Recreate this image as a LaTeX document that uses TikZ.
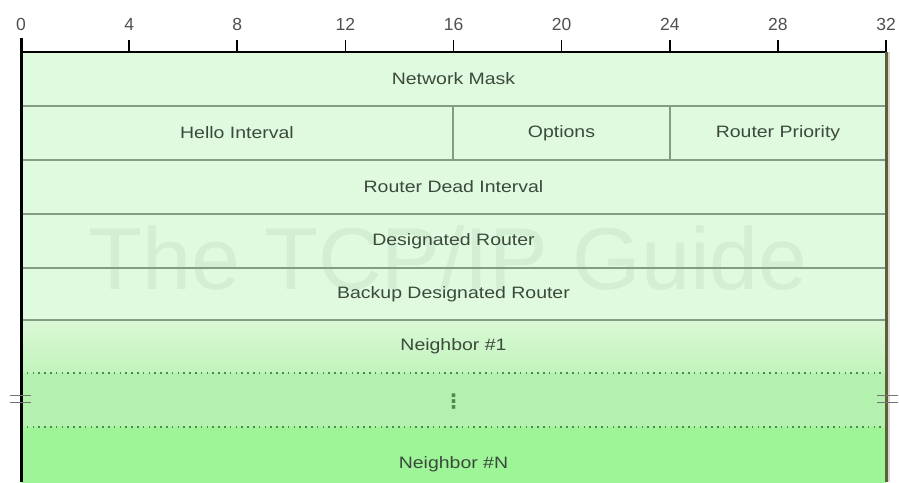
\documentclass[tikz,border=0pt]{standalone}
\usepackage{fontspec}
\setmainfont{Liberation Sans}
\newfontfamily\symfont{DejaVu Sans}
\definecolor{bgA}{HTML}{DFFADF}
\definecolor{bgB1}{HTML}{DAF8D6}
\definecolor{bgB2}{HTML}{C2F4BC}
\definecolor{bgC}{HTML}{B4F1AF}
\definecolor{bgD}{HTML}{9DF598}
\definecolor{sepc}{HTML}{849C84}
\definecolor{dotc}{HTML}{4E8A4E}
\definecolor{txtc}{HTML}{3C4A3C}
\definecolor{tickc}{HTML}{505050}
\definecolor{rightc}{HTML}{5E5E3A}
\definecolor{wmark}{HTML}{D3EFD3}
\newcommand{\wtxt}[1]{\scalebox{1.18}[1]{#1}}
\tikzset{
  field/.style={inner sep=0pt, outer sep=0pt, minimum height=54pt, text=txtc,
    font=\fontsize{16.5}{18}\selectfont},
  sepline/.style={draw=sepc, line width=1.6pt},
  dotline/.style={draw=dotc, line width=1.4pt, dash pattern=on 1.6pt off 4.2pt},
  ticklbl/.style={text=tickc, font=\fontsize{17.5}{19}\selectfont, inner sep=0pt},
  tickmark/.style={draw=black, line width=1.6pt},
  brk/.style={draw=tickc!80, line width=1.6pt}
}
\begin{document}
\begin{tikzpicture}[x=1pt,y=-1pt]
\useasboundingbox (0,0) rectangle (899,482);
\fill[white] (0,0) rectangle (899,482);
\begin{scope}
\clip (0,0) rectangle (899,482);
% row fills
\node[field, fill=bgA, minimum width=865pt, minimum height=54pt, anchor=north west] (r1) at (21,52) {};
\node[field, fill=bgA, minimum width=432pt, anchor=north west] (hello) at (21,106) {};
\node[field, fill=bgA, minimum width=217pt, anchor=north west] (opt) at (453,106) {};
\node[field, fill=bgA, minimum width=216pt, anchor=north west] (prio) at (670,106) {};
\node[field, fill=bgA, minimum width=865pt, anchor=north west] (r3) at (21,160) {};
\node[field, fill=bgA, minimum width=865pt, anchor=north west] (r4) at (21,214) {};
\node[field, fill=bgA, minimum width=865pt, minimum height=52pt, anchor=north west] (r5) at (21,268) {};
\node[field, top color=bgB1, bottom color=bgB2, minimum width=865pt, minimum height=53pt, anchor=north west] (r6) at (21,320) {};
\node[field, fill=bgC, minimum width=865pt, anchor=north west] (r7) at (21,373) {};
\node[field, fill=bgD, minimum width=865pt, minimum height=66pt, anchor=north west] (r8) at (21,427) {};
% watermark
\node[text=wmark, font=\fontsize{88}{96}\selectfont, inner sep=0pt] (wm) at (448,258) {The TCP/IP Guide};
% separators
\draw[sepline] (r1.south west) -- (r1.south east);
\draw[sepline] (hello.south west) -- (prio.south east);
\draw[sepline] (hello.north east) -- (hello.south east);
\draw[sepline] (opt.north east) -- (opt.south east);
\draw[sepline] (r3.south west) -- (r3.south east);
\draw[sepline] (r4.south west) -- (r4.south east);
\draw[sepline] (r5.south west) -- (r5.south east);
\draw[dotline] (r6.south west) -- (r6.south east);
\draw[dotline] (r7.south west) -- (r7.south east);
% texts
\node[field, minimum height=0pt] (t1) at (r1.center) {\wtxt{Network Mask}};
\node[field, minimum height=0pt] (t2) at (hello.center) {\wtxt{Hello Interval}};
\node[field, minimum height=0pt] (t3) at (opt.center) {\wtxt{Options}};
\node[field, minimum height=0pt] (t4) at (prio.center) {\wtxt{Router Priority}};
\node[field, minimum height=0pt] (t5) at (r3.center) {\wtxt{Router Dead Interval}};
\node[field, minimum height=0pt] (t6) at (r4.center) {\wtxt{Designated Router}};
\node[field, minimum height=0pt] (t7) at (r5.center) {\wtxt{Backup Designated Router}};
\node[field, minimum height=0pt] (t8) at (r6.center) {\wtxt{Neighbor \#1}};
\node[field, minimum height=0pt, text=dotc, font=\symfont\bfseries\fontsize{20}{22}\selectfont] (t9) at ([yshift=-2pt]r7.center) {⋮};
\node[field, minimum height=0pt] (t10) at ([yshift=-4pt]r8.center) {\wtxt{Neighbor \#N}};
% borders
\coordinate (tl) at (21,38);
\coordinate (bl) at (21,482);
\coordinate (br) at (886,482);
\draw[black, line width=2pt] (r1.north west) -- (r1.north east);
\draw[black, line width=3pt] (tl) -- (bl);
\draw[rightc, line width=3pt] (r1.north east) -- (br);
\draw[rightc!25, line width=2pt] ([xshift=3pt]r1.north east) -- ([xshift=3pt]br);
\end{scope}
% ticks and labels
\foreach \b [count=\i from 0] in {0,4,8,12,16,20,24,28,32}{
  \pgfmathsetmacro{\xx}{21+27.03125*\b}
  \node[ticklbl] (lb\i) at (\xx,24) {\b};
  \coordinate (tk\i) at (\xx,40);
  \coordinate (tb\i) at (\xx,52);
  \draw[tickmark] (tk\i) -- (tb\i);
}
% break marks
\coordinate (bla) at (10,395.5); \coordinate (blb) at (31,395.5);
\coordinate (blc) at (10,402.5); \coordinate (bld) at (31,402.5);
\coordinate (bra) at (877,395.5); \coordinate (brb) at (898,395.5);
\coordinate (brc) at (877,402.5); \coordinate (brd) at (898,402.5);
\draw[brk] (bla) -- (blb); \draw[brk] (blc) -- (bld);
\draw[brk] (bra) -- (brb); \draw[brk] (brc) -- (brd);
\end{tikzpicture}
\end{document}
